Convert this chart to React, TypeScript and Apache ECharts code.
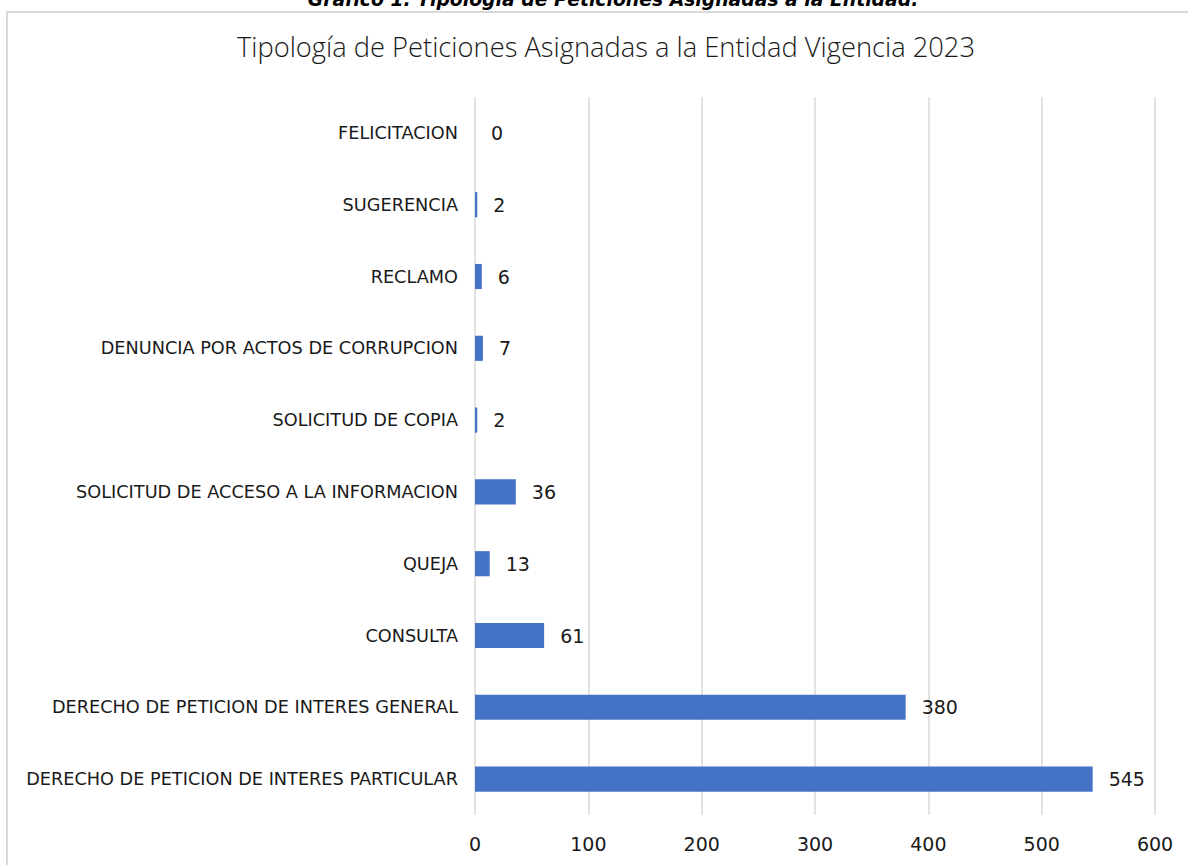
import React, { useEffect, useRef } from "react";
import * as echarts from "echarts";

const categories = [
  "FELICITACION",
  "SUGERENCIA",
  "RECLAMO",
  "DENUNCIA POR ACTOS DE CORRUPCION",
  "SOLICITUD DE COPIA",
  "SOLICITUD DE ACCESO A LA INFORMACION",
  "QUEJA",
  "CONSULTA",
  "DERECHO DE PETICION DE INTERES GENERAL",
  "DERECHO DE PETICION DE INTERES PARTICULAR",
];
const values = [0, 2, 6, 7, 2, 36, 13, 61, 380, 545];
const xTicks = { min: 0, max: 600, interval: 100 };

const caption = "Gráfico 1. Tipología de Peticiones Asignadas a la Entidad.";
const title = "Tipología de Peticiones Asignadas a la Entidad Vigencia 2023";

const LIGHT = "'Open Sans', 'Noto Sans', sans-serif";
const WIDE = "'DejaVu Sans', sans-serif";

export default function App() {
  const ref = useRef<HTMLDivElement>(null);
  useEffect(() => {
    if (!ref.current) return;
    const chart = echarts.init(ref.current, null, { renderer: "svg" });
    chart.setOption({
      animation: false,
      backgroundColor: "#ffffff",
      title: {
        text: title,
        left: 601,
        textAlign: "center",
        top: 28,
        textStyle: {
          fontFamily: LIGHT,
          fontSize: 27.3,
          fontWeight: 300,
          color: "#1a1a1a",
        },
      },
      graphic: [
        {
          type: "rect",
          shape: { x: 7, y: 12, width: 1200, height: 880 },
          style: { fill: "none", stroke: "#d9d9d9", lineWidth: 2 },
          silent: true,
        },
        {
          type: "text",
          x: 613,
          y: -10,
          style: {
            text: caption,
            textAlign: "center",
            textVerticalAlign: "top",
            fontFamily: WIDE,
            fontSize: 18.8,
            fontWeight: "bold",
            fontStyle: "italic",
            fill: "#000000",
          },
        },
      ],
      grid: { left: 475, right: 33, top: 97, bottom: 50, containLabel: false },
      xAxis: {
        type: "value",
        min: xTicks.min,
        max: xTicks.max,
        interval: xTicks.interval,
        axisLine: { show: false },
        axisTick: { show: false },
        splitLine: { show: true, lineStyle: { color: "#d9d9d9", width: 1.5 } },
        axisLabel: {
          margin: 19,
          fontFamily: WIDE,
          fontSize: 19,
          color: "#1a1a1a",
        },
      },
      yAxis: {
        type: "category",
        data: categories,
        inverse: true,
        axisLine: { show: false },
        axisTick: { show: false },
        axisLabel: {
          margin: 17,
          fontFamily: WIDE,
          fontSize: 17.7,
          color: "#1a1a1a",
        },
      },
      series: [
        {
          type: "bar",
          data: values,
          barWidth: "35%",
          itemStyle: { color: "#4472C4" },
          label: {
            show: true,
            position: "right",
            distance: 16,
            fontFamily: WIDE,
            fontSize: 19,
            color: "#1a1a1a",
          },
        },
      ],
    });
    return () => chart.dispose();
  }, []);
  return (
    <div
      ref={ref}
      style={{ position: "fixed", left: 0, top: 0, width: 1188, height: 865 }}
    />
  );
}
